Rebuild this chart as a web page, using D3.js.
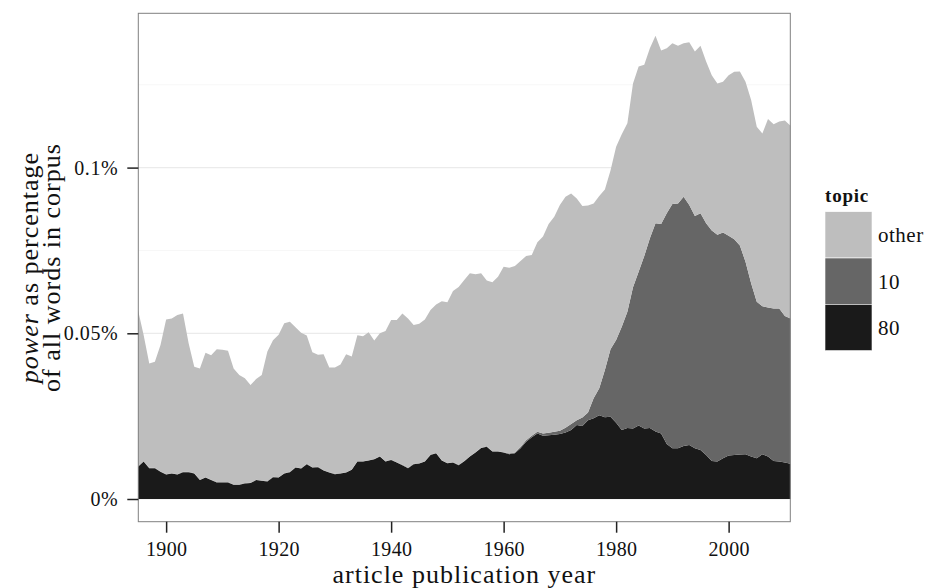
<!DOCTYPE html>
<html>
<head>
<meta charset="utf-8">
<script src="https://cdn.jsdelivr.net/npm/d3@7.9.0/dist/d3.min.js"></script>
<style>
  body { margin: 0; background: #fff; }
  svg text { font-family: "Liberation Serif", "DejaVu Serif", serif; fill: #111; }
</style>
</head>
<body>
<svg id="chart" width="932" height="588"></svg>
<script>
// yearly values, % of all words in corpus
const years = d3.range(1895, 2012);

const topic80 = [
  0.0097, 0.0113, 0.0093, 0.0093, 0.0082, 0.0074, 0.0077, 0.0074, 0.0081, 0.0081,
  0.0077, 0.0057, 0.0065, 0.0057, 0.0050, 0.0050, 0.0050, 0.0043, 0.0043, 0.0047,
  0.0048, 0.0057, 0.0055, 0.0053, 0.0066, 0.0065, 0.0077, 0.0081, 0.0095, 0.0092,
  0.0105, 0.0095, 0.0096, 0.0086, 0.0080, 0.0075, 0.0077, 0.0080, 0.0088, 0.0113,
  0.0113, 0.0116, 0.0120, 0.0128, 0.0113, 0.0118, 0.0110, 0.0102, 0.0093, 0.0105,
  0.0107, 0.0113, 0.0133, 0.0138, 0.0116, 0.0108, 0.0110, 0.0102, 0.0114, 0.0128,
  0.0140, 0.0154, 0.0158, 0.0143, 0.0143, 0.0140, 0.0135, 0.0138, 0.0153, 0.0173,
  0.0186, 0.0198, 0.0191, 0.0192, 0.0194, 0.0196, 0.0201, 0.0208, 0.0223, 0.0220,
  0.0238, 0.0244, 0.0253, 0.0247, 0.0248, 0.0230, 0.0208, 0.0214, 0.0213, 0.0222,
  0.0213, 0.0214, 0.0204, 0.0198, 0.0166, 0.0153, 0.0153, 0.0160, 0.0163, 0.0153,
  0.0148, 0.0133, 0.0115, 0.0113, 0.0123, 0.0131, 0.0133, 0.0134, 0.0135, 0.0128,
  0.0123, 0.0135, 0.0128, 0.0115, 0.0113, 0.0110, 0.0106
];

const topic10 = [
  0.0001, 0.0001, 0.0001, 0.0001, 0.0001, 0.0001, 0.0001, 0.0001, 0.0001, 0.0001,
  0.0001, 0.0001, 0.0001, 0.0001, 0.0001, 0.0001, 0.0001, 0.0001, 0.0001, 0.0001,
  0.0001, 0.0001, 0.0001, 0.0001, 0.0001, 0.0001, 0.0001, 0.0001, 0.0001, 0.0001,
  0.0001, 0.0001, 0.0001, 0.0001, 0.0001, 0.0001, 0.0001, 0.0001, 0.0001, 0.0001,
  0.0001, 0.0001, 0.0001, 0.0001, 0.0001, 0.0001, 0.0001, 0.0001, 0.0001, 0.0001,
  0.0001, 0.0001, 0.0001, 0.0001, 0.0001, 0.0001, 0.0001, 0.0001, 0.0001, 0.0001,
  0.0001, 0.0001, 0.0001, 0.0001, 0.0001, 0.0001, 0.0002, 0.0002, 0.0004, 0.0004,
  0.0005, 0.0005, 0.0007, 0.0008, 0.0009, 0.0010, 0.0014, 0.0018, 0.0015, 0.0026,
  0.0023, 0.0060, 0.0081, 0.0142, 0.0204, 0.0250, 0.0312, 0.0351, 0.0426, 0.0464,
  0.0520, 0.0573, 0.0628, 0.0632, 0.0696, 0.0737, 0.0739, 0.0752, 0.0724, 0.0701,
  0.0714, 0.0699, 0.0695, 0.0684, 0.0681, 0.0663, 0.0651, 0.0631, 0.0581, 0.0523,
  0.0472, 0.0447, 0.0450, 0.0460, 0.0462, 0.0442, 0.0439
];

const other = [
  0.0472, 0.0381, 0.0315, 0.0320, 0.0382, 0.0467, 0.0467, 0.0480, 0.0478, 0.0388,
  0.0321, 0.0336, 0.0375, 0.0376, 0.0401, 0.0399, 0.0396, 0.0350, 0.0330, 0.0316,
  0.0295, 0.0304, 0.0318, 0.0391, 0.0412, 0.0430, 0.0452, 0.0453, 0.0422, 0.0409,
  0.0387, 0.0347, 0.0338, 0.0350, 0.0316, 0.0321, 0.0328, 0.0356, 0.0341, 0.0380,
  0.0377, 0.0386, 0.0357, 0.0371, 0.0393, 0.0421, 0.0429, 0.0457, 0.0451, 0.0419,
  0.0421, 0.0428, 0.0436, 0.0448, 0.0480, 0.0485, 0.0517, 0.0537, 0.0546, 0.0552,
  0.0537, 0.0526, 0.0500, 0.0510, 0.0527, 0.0560, 0.0561, 0.0563, 0.0561, 0.0556,
  0.0545, 0.0572, 0.0594, 0.0630, 0.0649, 0.0681, 0.0697, 0.0696, 0.0669, 0.0638,
  0.0625, 0.0588, 0.0580, 0.0545, 0.0539, 0.0583, 0.0581, 0.0569, 0.0615, 0.0619,
  0.0577, 0.0573, 0.0566, 0.0523, 0.0498, 0.0485, 0.0476, 0.0463, 0.0491, 0.0496,
  0.0506, 0.0488, 0.0469, 0.0457, 0.0455, 0.0485, 0.0505, 0.0525, 0.0543, 0.0553,
  0.0528, 0.0521, 0.0569, 0.0556, 0.0564, 0.0590, 0.0581
];

const topics = ['80', '10', 'other'];
const topicColors = ['#1a1a1a', '#666666', '#bebebe'];
const xTicks = [1900, 1920, 1940, 1960, 1980, 2000];
const yTicks = [0, 0.05, 0.1];
const yTickLabels = ['0%', '0.05%', '0.1%'];
const yMinor = [0.025, 0.075, 0.125];

const rows = years.map((yr, i) => ({year: yr, '80': topic80[i], '10': topic10[i], 'other': other[i]}));

const svg = d3.select('#chart');
const panel = {left: 138.3, right: 790.3, top: 13.3, bottom: 521.7};

let x = d3.scaleLinear().domain([1895, 2011]).range([138, 790.5]);
let y = d3.scaleLinear().domain([-0.00685, 0.14656]).range([panel.bottom, panel.top]);

svg.append('rect').attr('width', 932).attr('height', 588).attr('fill', '#fff');

// grid
svg.append('g').selectAll('line').data(yMinor).join('line')
  .attr('x1', panel.left).attr('x2', panel.right)
  .attr('y1', (d) => y(d)).attr('y2', (d) => y(d))
  .attr('stroke', '#f7f7f7').attr('stroke-width', 1);
svg.append('g').selectAll('line').data(yTicks).join('line')
  .attr('x1', panel.left).attr('x2', panel.right)
  .attr('y1', (d) => y(d)).attr('y2', (d) => y(d))
  .attr('stroke', '#ebebeb').attr('stroke-width', 1.2);

// stacked areas
let stack = d3.stack().keys(topics);
let series = stack(rows);
let area = d3.area()
  .x((d) => x(d.data.year))
  .y0((d) => y(d[0]))
  .y1((d) => y(d[1]));

svg.append('g').selectAll('path').data(series).join('path')
  .attr('d', area)
  .attr('fill', (d, i) => topicColors[i]);

// panel border
svg.append('rect')
  .attr('x', panel.left).attr('y', panel.top)
  .attr('width', panel.right - panel.left).attr('height', panel.bottom - panel.top)
  .attr('fill', 'none').attr('stroke', '#808080').attr('stroke-width', 1);

// axes
let yAxis = d3.axisLeft(y).tickValues(yTicks)
  .tickFormat((d, i) => yTickLabels[i]).tickSize(11).tickPadding(9);
let gy = svg.append('g').attr('transform', `translate(${panel.left},0)`).call(yAxis);
gy.select('.domain').remove();
gy.selectAll('line').attr('stroke', '#222').attr('stroke-width', 1.5);
gy.selectAll('text').style('font-size', '20px').style('letter-spacing', '0.6px').attr('fill', '#111');

let xAxis = d3.axisBottom(x).tickValues(xTicks).tickFormat(d3.format('d')).tickSize(11).tickPadding(9);
let gx = svg.append('g').attr('transform', `translate(0,${panel.bottom})`).call(xAxis);
gx.select('.domain').remove();
gx.selectAll('line').attr('stroke', '#222').attr('stroke-width', 1.5);
gx.selectAll('text').style('font-size', '20px').style('letter-spacing', '0.3px').attr('fill', '#111');

// axis titles
svg.append('text')
  .attr('x', (panel.left + panel.right) / 2).attr('y', 583)
  .attr('text-anchor', 'middle').style('font-size', '26px').style('letter-spacing', '1px')
  .text('article publication year');

let yTitle = svg.append('text')
  .attr('transform', `translate(38,${(panel.top + panel.bottom) / 2}) rotate(-90)`)
  .attr('text-anchor', 'middle').style('font-size', '26px').style('letter-spacing', '1px');
yTitle.append('tspan').attr('x', 0).attr('dy', 0)
  .append('tspan').attr('font-style', 'italic').text('power');
yTitle.select('tspan').append('tspan').text(' as percentage');
yTitle.append('tspan').attr('x', 0).attr('dy', 22).text('of all words in corpus');

// legend
let legend = svg.append('g').attr('transform', 'translate(825,0)');
legend.append('text').attr('x', 0).attr('y', 202)
  .style('font-size', '19px').style('font-weight', 'bold').style('letter-spacing', '0.8px').text('topic');
let legendOrder = ['other', '10', '80'];
legendOrder.forEach((t, i) => {
  let k = topics.indexOf(t);
  legend.append('rect')
    .attr('x', 0).attr('y', 211.7 + i * 46.3)
    .attr('width', 47).attr('height', 46.3)
    .attr('fill', topicColors[k])
    .attr('stroke', '#fff').attr('stroke-width', 0.6);
  legend.append('text')
    .attr('x', 53).attr('y', 211.7 + i * 46.3 + 23.15)
    .attr('dy', '0.35em').style('font-size', '21px').style('letter-spacing', '0.5px')
    .text(t);
});
</script>
</body>
</html>
